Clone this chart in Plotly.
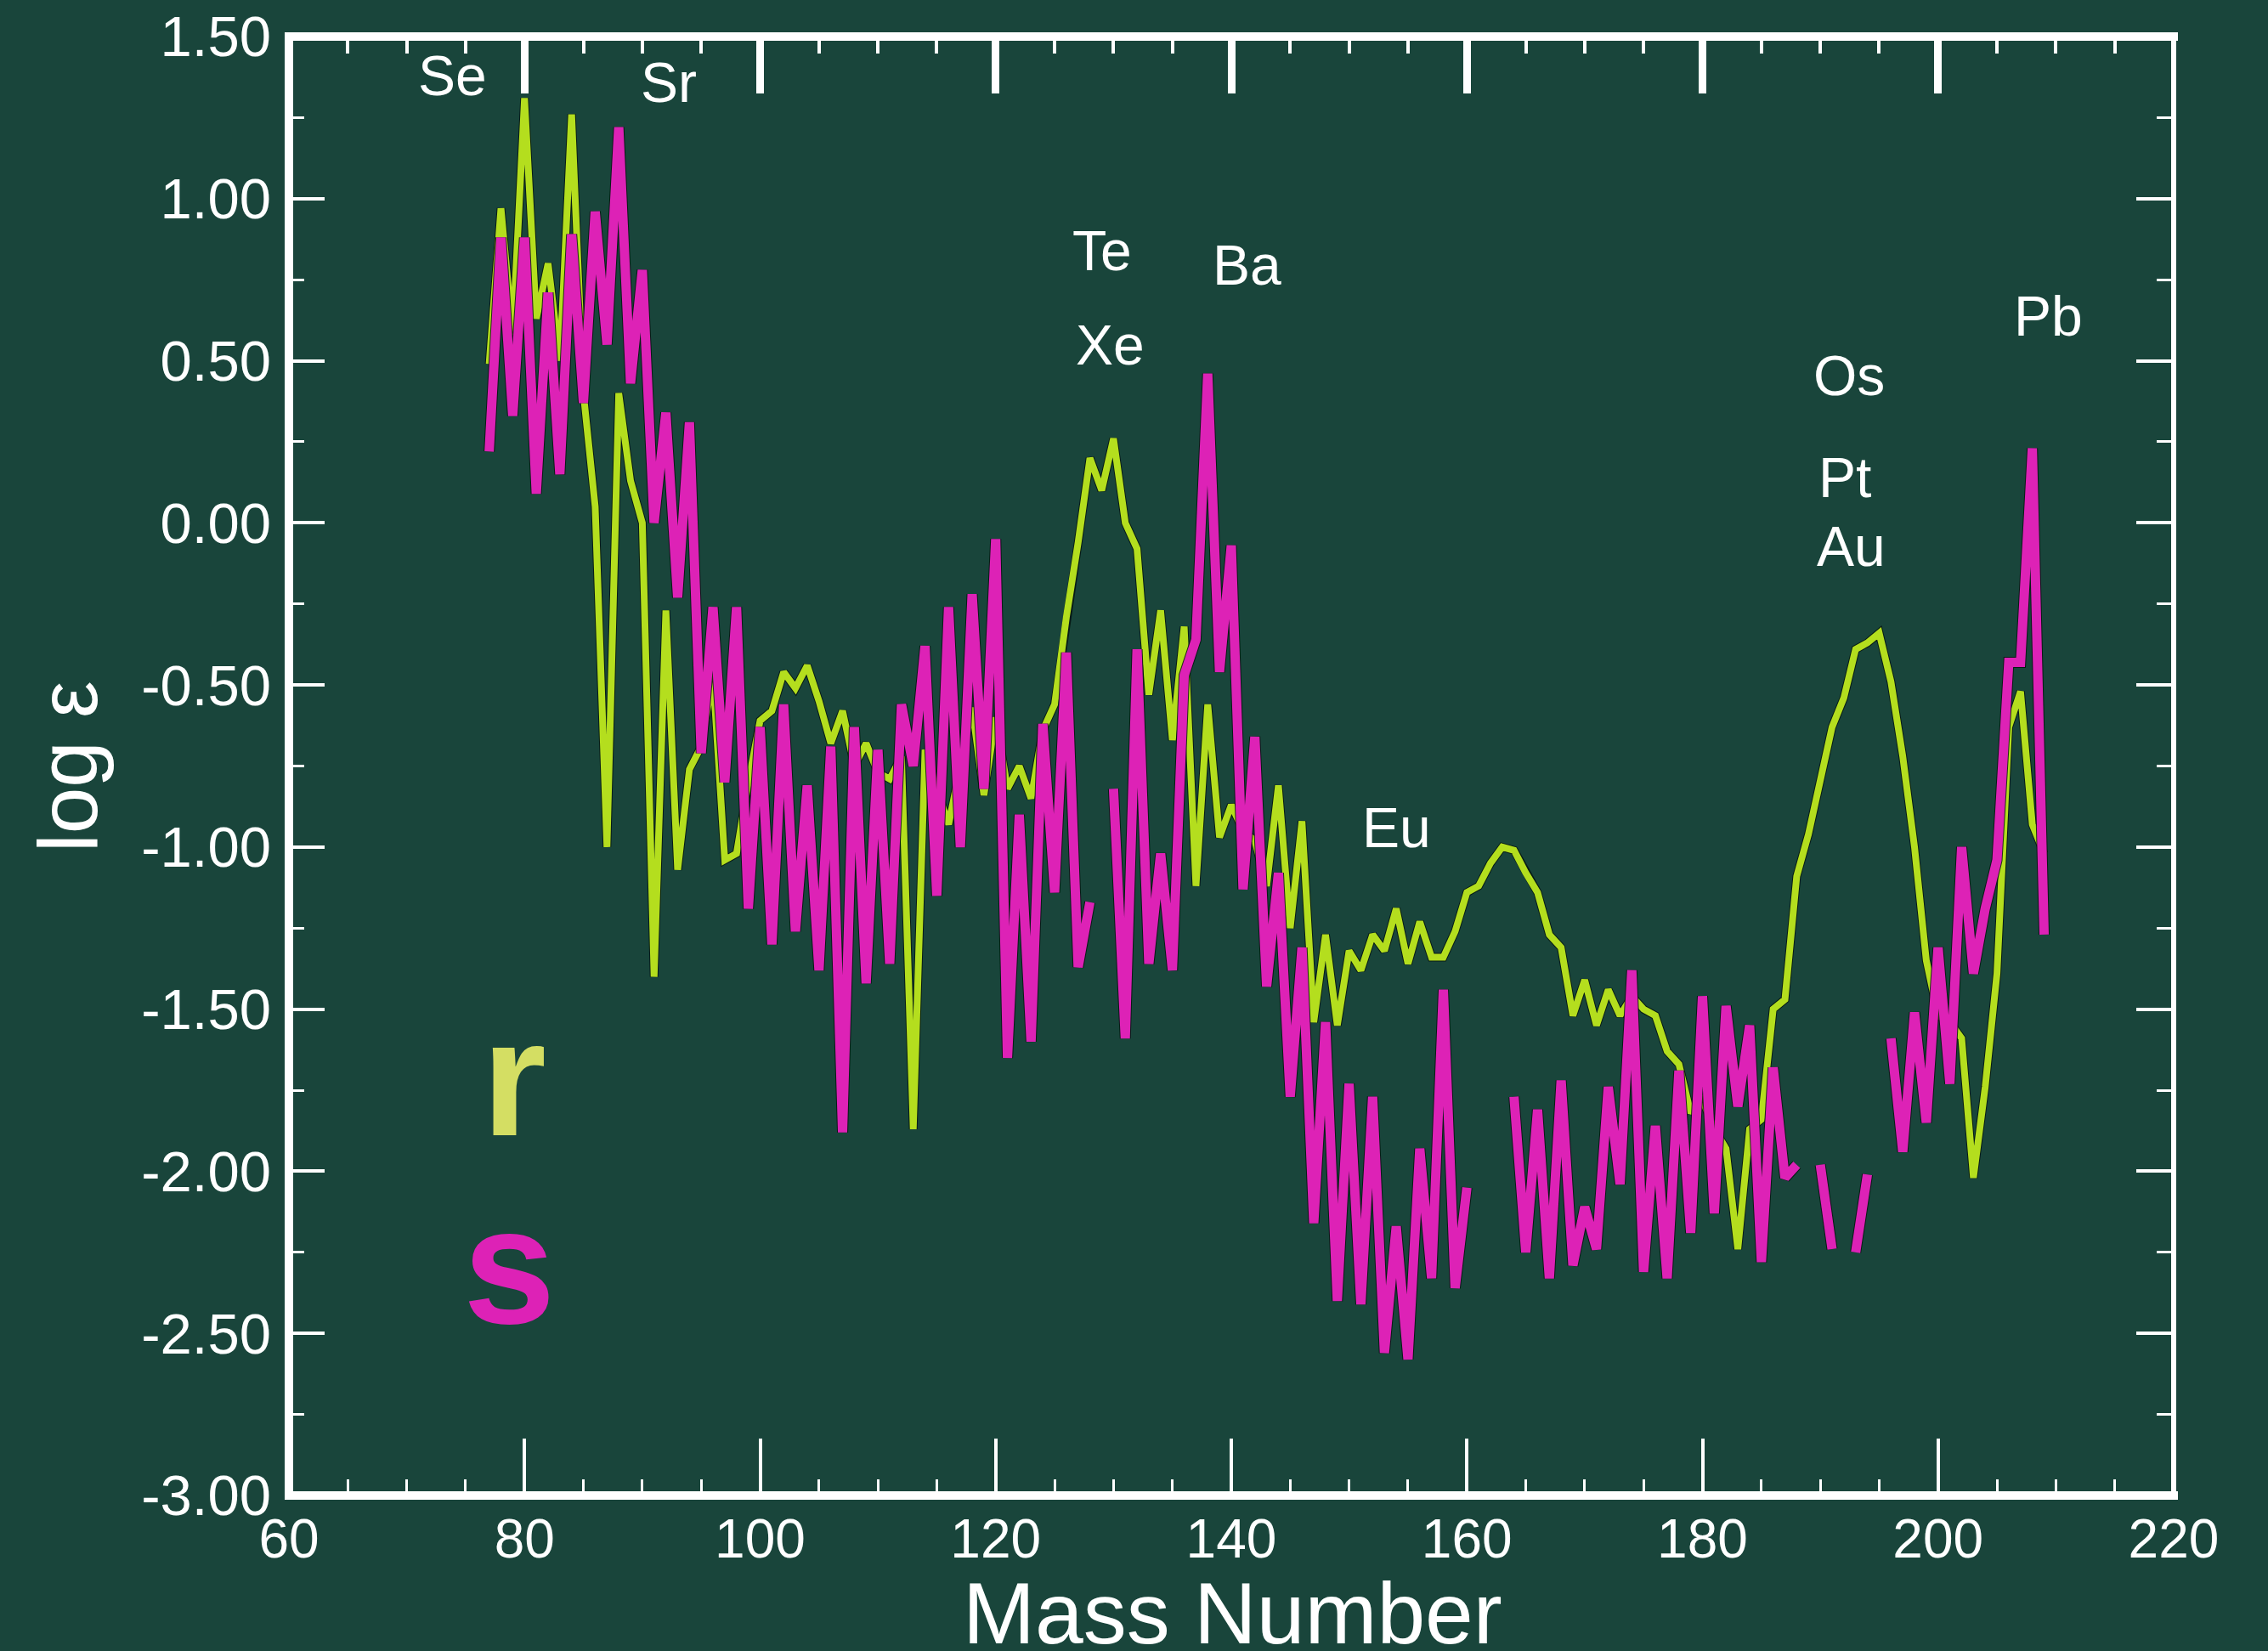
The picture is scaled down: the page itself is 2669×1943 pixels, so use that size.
import plotly.graph_objects as go

# ---------------- data ----------------
mass_number = list(range(77, 210))

r_process = [
    0.49, 0.97, 0.58, 1.31, 0.63, 0.80, 0.50, 1.26, 0.40, 0.05,      # 77-86
    -1.00, 0.40, 0.13, 0.00, -1.40, -0.27, -1.07, -0.76, -0.69, -0.47,  # 87-96
    -1.04, -1.02, -0.80, -0.61, -0.58, -0.46, -0.51, -0.44, -0.55, -0.68,  # 97-106
    -0.58, -0.75, -0.68, -0.77, -0.79, -0.72, -1.87, -0.70, -0.82, -0.93,  # 107-116
    -0.75, -0.57, -0.84, -0.60, -0.82, -0.75, -0.85, -0.64, -0.56, -0.29,  # 117-126
    -0.06, 0.20, 0.10, 0.26, 0.00, -0.08, -0.53, -0.27, -0.67, -0.32,   # 127-136
    -1.12, -0.56, -0.97, -0.87, -0.95, -0.98, -1.12, -0.81, -1.25, -0.92,  # 137-146
    -1.54, -1.27, -1.55, -1.32, -1.38, -1.27, -1.32, -1.19, -1.36, -1.23,  # 147-156
    -1.34, -1.34, -1.26, -1.14, -1.12, -1.05, -1.00, -1.01, -1.08, -1.14,  # 157-166
    -1.27, -1.31, -1.52, -1.41, -1.55, -1.44, -1.52, -1.46, -1.50, -1.52,  # 167-176
    -1.63, -1.67, -1.82, -1.78, -1.87, -1.93, -2.24, -1.87, -1.84, -1.50,  # 177-186
    -1.47, -1.09, -0.96, -0.80, -0.63, -0.54, -0.39, -0.37, -0.34, -0.49,  # 187-196
    -0.72, -1.00, -1.35, -1.52, -1.54, -1.59, -2.02, -1.74, -1.39, -0.63,  # 197-206
    -0.52, -0.93, -1.02,                                                # 207-209
]

s_process = [
    0.22, 0.88, 0.33, 0.88, 0.09, 0.71, 0.15, 0.89, 0.37, 0.96,      # 77-86
    0.55, 1.22, 0.43, 0.78, 0.00, 0.34, -0.23, 0.31, -0.71, -0.26,   # 87-96
    -0.80, -0.26, -1.19, -0.63, -1.30, -0.56, -1.26, -0.81, -1.38, -0.69,  # 97-106
    -1.88, -0.63, -1.42, -0.70, -1.36, -0.56, -0.75, -0.38, -1.15, -0.26,  # 107-116
    -1.00, -0.22, -0.82, -0.05, -1.65, -0.90, -1.60, -0.62, -1.14, -0.40,  # 117-126
    -1.37, -1.17, None, -0.82, -1.59, -0.39, -1.36, -1.02, -1.38, -0.47,   # 127-136
    -0.36, 0.46, -0.46, -0.07, -1.13, -0.66, -1.43, -1.08, -1.77, -1.31,   # 137-146
    -2.16, -1.54, -2.40, -1.73, -2.41, -1.77, -2.56, -2.17, -2.58, -1.93,  # 147-156
    -2.33, -1.44, -2.36, -2.05, None, None, None, -1.77, -2.25, -1.81,     # 157-166
    -2.33, -1.72, -2.29, -2.11, -2.24, -1.74, -2.04, -1.38, -2.31, -1.86,  # 167-176
    -2.33, -1.69, -2.19, -1.46, -2.13, -1.49, -1.80, -1.55, -2.28, -1.68,  # 177-186
    -2.02, -1.98, None, -1.98, -2.24, None, -2.25, -2.01, None, -1.59,     # 187-196
    -1.94, -1.51, -1.85, -1.31, -1.73, -1.00, -1.39, -1.19, -1.04, -0.43,  # 197-206
    -0.43, 0.23, -1.27,                                                # 207-209
]

x_tick_values = [60, 80, 100, 120, 140, 160, 180, 200, 220]
y_tick_values = [-3.0, -2.5, -2.0, -1.5, -1.0, -0.5, 0.0, 0.5, 1.0, 1.5]
y_tick_labels = ["-3.00", "-2.50", "-2.00", "-1.50", "-1.00", "-0.50",
                 "0.00", "0.50", "1.00", "1.50"]

element_labels = ["Se", "Sr", "Te", "Xe", "Ba", "Eu", "Os", "Pt", "Au", "Pb"]
series_names = ["r", "s"]
x_title = "Mass Number"
y_title = "log \u03b5"

# ---------------- styling ----------------
BG = "#19453B"
R_COLOR = "#B4DE1E"
S_COLOR = "#DD22B6"
R_TEXT = "#D4DE63"
OUTLINE = "rgba(5,20,15,0.85)"
FONT = "Liberation Sans, Arial, Helvetica, sans-serif"
M_L, M_R, M_T, M_B = 340, 111, 43, 183
PLOT_W = 2669.0 - M_L - M_R
PLOT_H = 1943.0 - M_T - M_B

# label anchor positions (data coordinates of text centres)
label_pos = {
    "Se": (73.85, 1.38), "Sr": (92.25, 1.358), "Te": (129.0, 0.839),
    "Xe": (129.7, 0.548), "Ba": (141.3, 0.794), "Eu": (154.05, -0.94),
    "Os": (192.45, 0.455), "Pt": (192.05, 0.14), "Au": (192.6, -0.072),
    "Pb": (209.35, 0.638),
}
series_label_pos = {"r": (79.15, -1.71), "s": (78.65, -2.29)}

fig = go.Figure()

fig.add_trace(go.Scatter(x=mass_number, y=r_process, mode="lines",
                         line=dict(color=OUTLINE, width=10),
                         hoverinfo="skip", showlegend=False))
fig.add_trace(go.Scatter(x=mass_number, y=r_process, mode="lines",
                         line=dict(color=R_COLOR, width=8),
                         name=series_names[0], showlegend=False))
fig.add_trace(go.Scatter(x=mass_number, y=s_process, mode="lines",
                         line=dict(color=OUTLINE, width=13),
                         connectgaps=False, hoverinfo="skip", showlegend=False))
fig.add_trace(go.Scatter(x=mass_number, y=s_process, mode="lines",
                         line=dict(color=S_COLOR, width=11),
                         connectgaps=False, name=series_names[1],
                         showlegend=False))
# helper trace so that the top / right axes are drawn
fig.add_trace(go.Scatter(x=[None], y=[None], xaxis="x2", yaxis="y2",
                         showlegend=False, hoverinfo="skip"))

xtickfont = dict(size=64, color="white", family=FONT)
ytickfont = dict(size=67, color="white", family=FONT)

fig.update_layout(
    width=2669, height=1943,
    margin=dict(l=M_L, r=M_R, t=M_T, b=M_B, pad=0, autoexpand=False),
    paper_bgcolor=BG, plot_bgcolor=BG,
    font=dict(family=FONT, color="white"),
    showlegend=False,
    xaxis=dict(
        range=[60, 220], tickmode="array", tickvals=x_tick_values,
        ticktext=[str(v) for v in x_tick_values],
        ticks="inside", ticklen=67, tickwidth=4, tickcolor="white",
        minor=dict(ticks="inside", ticklen=19, tickwidth=3,
                   tickcolor="white", tick0=60, dtick=5),
        showline=False, showgrid=False, zeroline=False, tickfont=xtickfont,
        ticklabelstandoff=8, automargin=False, ticklabeloverflow="allow",
    ),
    xaxis2=dict(
        range=[60, 220], overlaying="x", side="top",
        tickmode="array", tickvals=x_tick_values,
        ticks="inside", ticklen=67, tickwidth=9, tickcolor="white",
        minor=dict(ticks="inside", ticklen=20, tickwidth=4,
                   tickcolor="white", tick0=60, dtick=5),
        showticklabels=False, showline=False, showgrid=False,
        zeroline=False, automargin=False,
    ),
    yaxis=dict(
        range=[-3, 1.5], tickmode="array", tickvals=y_tick_values,
        ticktext=y_tick_labels,
        ticks="inside", ticklen=42, tickwidth=4, tickcolor="white",
        minor=dict(ticks="inside", ticklen=18, tickwidth=3,
                   tickcolor="white", tick0=-3, dtick=0.25),
        showline=False, showgrid=False, zeroline=False, tickfont=ytickfont,
        ticklabelstandoff=20, automargin=False, ticklabeloverflow="allow",
    ),
    yaxis2=dict(
        range=[-3, 1.5], overlaying="y", side="right",
        tickmode="array", tickvals=y_tick_values,
        ticks="inside", ticklen=44, tickwidth=4, tickcolor="white",
        minor=dict(ticks="inside", ticklen=20, tickwidth=3,
                   tickcolor="white", tick0=-3, dtick=0.25),
        showticklabels=False, showline=False, showgrid=False,
        zeroline=False, automargin=False,
    ),
)

# frame lines centred on the plot-area edges
ext = 5.0 / PLOT_W
exty = 5.0 / PLOT_H
frame = [
    dict(x0=-ext, x1=1 + ext, y0=0, y1=0, w=10),   # bottom
    dict(x0=-ext, x1=1 + ext, y0=1, y1=1, w=10),   # top
    dict(x0=0, x1=0, y0=-exty, y1=1 + exty, w=10),  # left
    dict(x0=1, x1=1, y0=-exty, y1=1 + exty, w=6),   # right
]
fig.update_layout(shapes=[
    dict(type="line", xref="paper", yref="paper", x0=f["x0"], x1=f["x1"],
         y0=f["y0"], y1=f["y1"], line=dict(color="white", width=f["w"]),
         layer="above")
    for f in frame
])

annotations = []
for name in element_labels:
    ax, ay = label_pos[name]
    annotations.append(dict(x=ax, y=ay, xref="x", yref="y", text=name,
                            showarrow=False, xanchor="center",
                            yanchor="middle",
                            font=dict(size=66, color="white", family=FONT)))

for name, col in zip(series_names, [R_TEXT, S_COLOR]):
    ax, ay = series_label_pos[name]
    annotations.append(dict(x=ax, y=ay, xref="x", yref="y",
                            text="<b>" + name + "</b>", showarrow=False,
                            xanchor="center", yanchor="middle",
                            font=dict(size=195, color=col, family=FONT)))

# axis titles (pixel targets converted to paper units)
title_x_px, title_y_px = 1450.0, 1899.0
ytitle_x_px, ytitle_y_px = 80.0, 902.0
annotations.append(dict(x=(title_x_px - M_L) / PLOT_W,
                        y=(1943.0 - M_B - title_y_px) / PLOT_H,
                        xref="paper", yref="paper",
                        text=x_title, showarrow=False, xanchor="center",
                        yanchor="middle",
                        font=dict(size=102, color="white", family=FONT)))
annotations.append(dict(x=(ytitle_x_px - M_L) / PLOT_W,
                        y=(1943.0 - M_B - ytitle_y_px) / PLOT_H,
                        xref="paper", yref="paper",
                        text=y_title, showarrow=False, textangle=-90,
                        xanchor="center", yanchor="middle",
                        font=dict(size=98, color="white", family=FONT)))

fig.update_layout(annotations=annotations)

fig.write_html("out.html",
               config={"displayModeBar": False},
               post_script="document.body.style.margin='0px';"
                           "document.body.style.overflow='hidden';")
